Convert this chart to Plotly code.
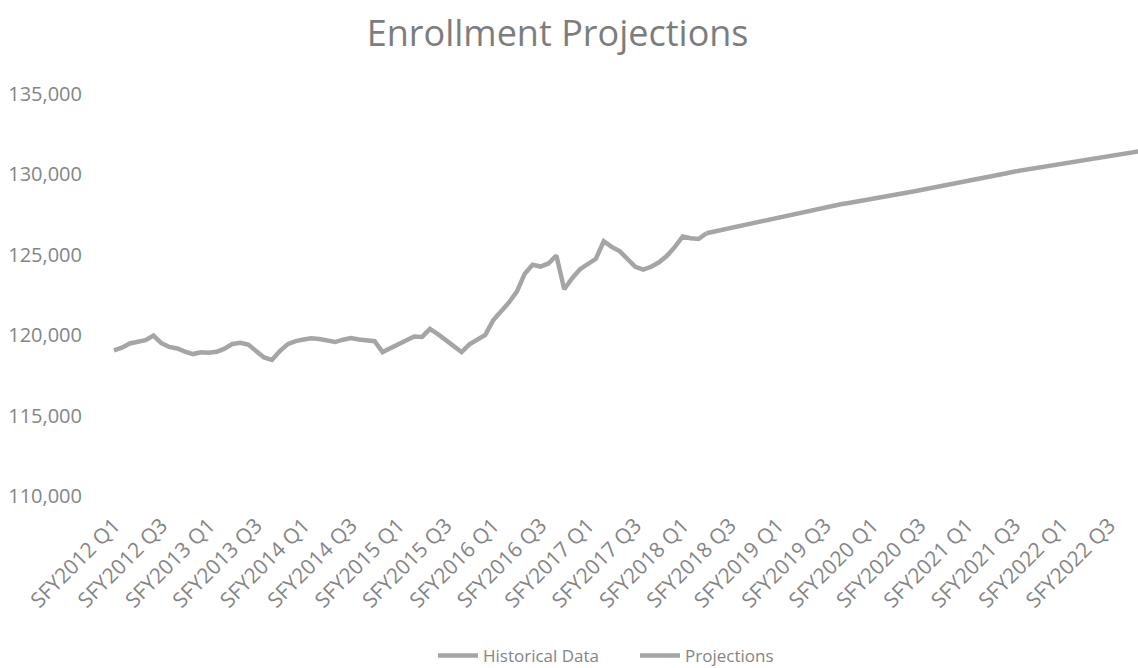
import plotly.graph_objects as go

# Month labels: SFY2012 Q1 .. SFY2022 Q4, monthly categories (3 per quarter)
years = list(range(2012, 2023))
quarters = ["Q1", "Q2", "Q3", "Q4"]
month_labels = []
for y in years:
    for q in quarters:
        for _ in range(3):
            month_labels.append(f"SFY{y} {q}")

# Historical data (monthly)
historical = [
    119056, 119223, 119488, 119562, 119691, 119975, 119506, 119272, 119173, 118982,
    118828, 118939, 118914, 118970, 119161, 119457, 119531, 119414, 118976, 118612,
    118457, 119013, 119445, 119636, 119729, 119803, 119766, 119661, 119574, 119722,
    119821, 119729, 119661, 119630, 118951, 119198, 119469, 119704, 119914, 119895,
    120389, 120062, 119716, 119364, 118951, 119432, 119704, 120019, 120926, 121487,
    122036, 122715, 123825, 124381, 124270, 124461, 124955, 122857, 123548, 124103,
    124393, 124751, 125843, 125491, 125232, 124732, 124257, 124072, 124257, 124535,
    124936, 125491, 126139, 126034, 125985, 126343,
]

# Projections (monthly, starting at the last historical month)
projections = [
    126343, 126450, 126550, 126650, 126760, 126867, 126980, 127090, 127200, 127310,
    127420, 127530, 127640, 127780, 127870, 127960, 128050, 128140, 128220, 128300,
    128390, 128470, 128558, 128650, 128740, 128830, 128920, 129010, 129100, 129190,
    129300, 129390, 129490, 129590, 129680, 129780, 129880, 129970, 130070, 130180,
    130260, 130350, 130430, 130510, 130590, 130680, 130760, 130860, 130940, 131010,
    131090, 131160, 131240, 131310, 131390, 131460, 131530,
]

y_ticks = [110000, 115000, 120000, 125000, 130000, 135000]

hist_x = list(range(len(historical)))
proj_start = len(historical) - 1
proj_x = list(range(proj_start, proj_start + len(projections)))

tick_idx = list(range(0, len(month_labels), 6))
tick_text = [month_labels[i] for i in tick_idx]

FONT = "Open Sans"
LINE_COLOR = "#a5a5a5"
TEXT_COLOR = "#858585"

fig = go.Figure()
fig.add_trace(go.Scatter(x=hist_x, y=historical, mode="lines", name="Historical Data",
                         line=dict(color=LINE_COLOR, width=4.5)))
fig.add_trace(go.Scatter(x=proj_x, y=projections, mode="lines", name="Projections",
                         line=dict(color=LINE_COLOR, width=4.5)))

px_per_month = 7.9
plot_w = 1138 - 110
fig.update_layout(
    width=1138, height=668,
    margin=dict(l=110, r=0, t=94, b=172, autoexpand=False),
    paper_bgcolor="white", plot_bgcolor="white",
    font=dict(family=FONT, color=TEXT_COLOR),
    title=dict(text="Enrollment Projections", x=0.49, xref="container", xanchor="center",
               y=0.95, yref="container", yanchor="middle",
               font=dict(family=FONT, size=36, color="#7d7d7d")),
    showlegend=True,
    legend=dict(orientation="h", xref="container", yref="container",
                x=0.558, xanchor="center", y=0.018, yanchor="middle",
                font=dict(size=17, color=TEXT_COLOR), itemwidth=40,
                entrywidth=147, entrywidthmode="pixels"),
    xaxis=dict(range=[-0.5, -0.5 + plot_w / px_per_month], tickmode="array",
               tickvals=tick_idx, ticktext=tick_text, tickangle=-45,
               showgrid=False, zeroline=False, showline=False, ticks="",
               ticklabelstandoff=12,
               tickfont=dict(size=21, color=TEXT_COLOR, family=FONT)),
    yaxis=dict(range=[110000, 135000], tickmode="array", tickvals=y_ticks,
               ticktext=[f"{v:,}" for v in y_ticks],
               showgrid=False, zeroline=False, showline=False, ticks="",
               ticklabelstandoff=27,
               tickfont=dict(size=20, color=TEXT_COLOR, family=FONT)),
)

fig.write_html("out.html", config={"displayModeBar": False},
               post_script="document.body.style.margin='0';document.body.style.overflow='hidden';")
